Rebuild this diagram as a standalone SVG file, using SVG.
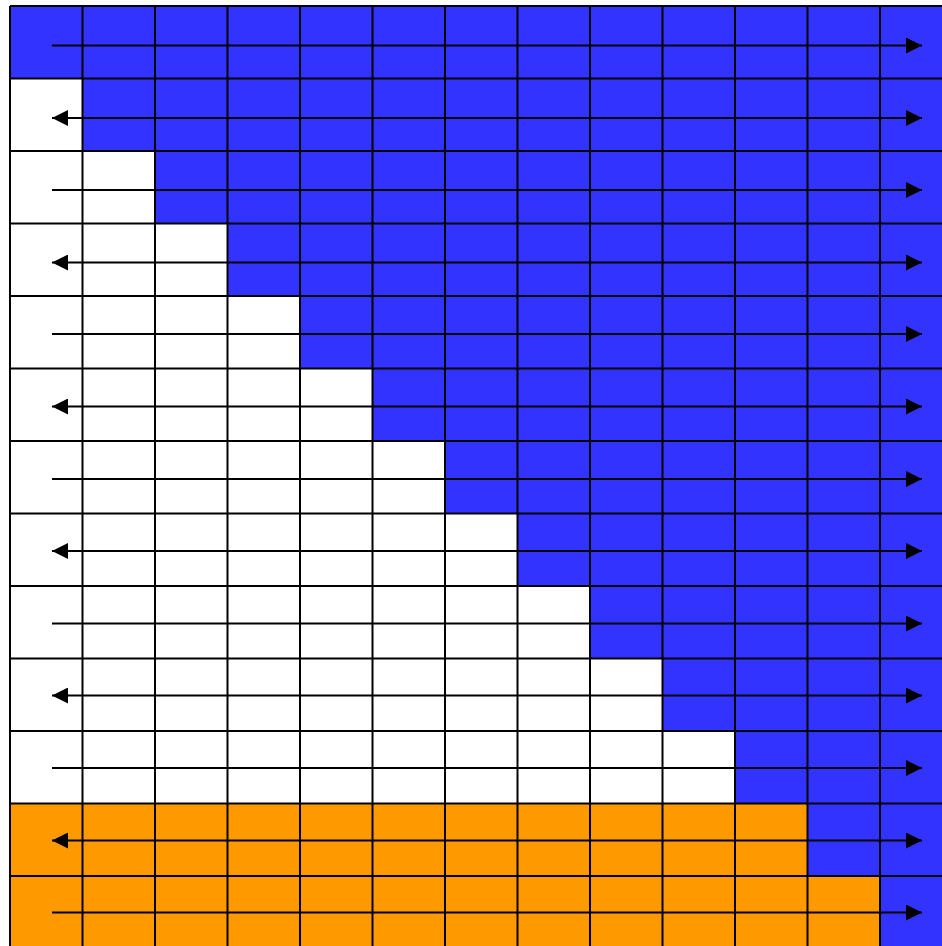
<svg xmlns="http://www.w3.org/2000/svg" width="942" height="946" viewBox="0 0 942 946">
<style>
.b{fill:#3333FF}
.o{fill:#FF9900}
.g line{stroke:#000;stroke-width:2}
.a line{stroke:#000;stroke-width:2.2;fill:none}
.s{marker-end:url(#ah)}
.d{marker-start:url(#ah);marker-end:url(#ah)}
</style>
<defs>
<marker id="ah" markerUnits="userSpaceOnUse" markerWidth="16" markerHeight="16" viewBox="0 0 16 16" refX="16" refY="8" orient="auto-start-reverse">
<path d="M0,0 L16,8 L0,16 z" fill="#000"/>
</marker>
</defs>
<rect x="0" y="0" width="942" height="946" fill="#fff"/>
<g id="cells">
<rect class="b" x="10" y="6" width="932" height="72.5"/>
<rect class="b" x="82.5" y="78.5" width="859.5" height="72.5"/>
<rect class="b" x="155" y="151" width="787" height="72.5"/>
<rect class="b" x="227.5" y="223.5" width="714.5" height="72.5"/>
<rect class="b" x="300" y="296" width="642" height="72.5"/>
<rect class="b" x="372.5" y="368.5" width="569.5" height="72.5"/>
<rect class="b" x="445" y="441" width="497" height="72.5"/>
<rect class="b" x="517.5" y="513.5" width="424.5" height="72.5"/>
<rect class="b" x="590" y="586" width="352" height="72.5"/>
<rect class="b" x="662.5" y="658.5" width="279.5" height="72.5"/>
<rect class="b" x="735" y="731" width="207" height="72.5"/>
<rect class="o" x="10" y="803.5" width="797.5" height="72.5"/>
<rect class="b" x="807.5" y="803.5" width="134.5" height="72.5"/>
<rect class="o" x="10" y="876" width="870" height="70"/>
<rect class="b" x="880" y="876" width="62" height="70"/>
</g>
<g id="grid" class="g">
<line x1="10" y1="6" x2="10" y2="946"/>
<line x1="82.5" y1="6" x2="82.5" y2="946"/>
<line x1="155" y1="6" x2="155" y2="946"/>
<line x1="227.5" y1="6" x2="227.5" y2="946"/>
<line x1="300" y1="6" x2="300" y2="946"/>
<line x1="372.5" y1="6" x2="372.5" y2="946"/>
<line x1="445" y1="6" x2="445" y2="946"/>
<line x1="517.5" y1="6" x2="517.5" y2="946"/>
<line x1="590" y1="6" x2="590" y2="946"/>
<line x1="662.5" y1="6" x2="662.5" y2="946"/>
<line x1="735" y1="6" x2="735" y2="946"/>
<line x1="807.5" y1="6" x2="807.5" y2="946"/>
<line x1="880" y1="6" x2="880" y2="946"/>
<line x1="10" y1="6" x2="942" y2="6"/>
<line x1="10" y1="78.5" x2="942" y2="78.5"/>
<line x1="10" y1="151" x2="942" y2="151"/>
<line x1="10" y1="223.5" x2="942" y2="223.5"/>
<line x1="10" y1="296" x2="942" y2="296"/>
<line x1="10" y1="368.5" x2="942" y2="368.5"/>
<line x1="10" y1="441" x2="942" y2="441"/>
<line x1="10" y1="513.5" x2="942" y2="513.5"/>
<line x1="10" y1="586" x2="942" y2="586"/>
<line x1="10" y1="658.5" x2="942" y2="658.5"/>
<line x1="10" y1="731" x2="942" y2="731"/>
<line x1="10" y1="803.5" x2="942" y2="803.5"/>
<line x1="10" y1="876" x2="942" y2="876"/>
</g>
<g id="connectors" class="a">
<line class="s" x1="52" y1="45.5" x2="922" y2="45.5"/>
<line class="d" x1="52" y1="118" x2="922" y2="118"/>
<line class="s" x1="52" y1="190" x2="922" y2="190"/>
<line class="d" x1="52" y1="262.5" x2="922" y2="262.5"/>
<line class="s" x1="52" y1="334" x2="922" y2="334"/>
<line class="d" x1="52" y1="406.5" x2="922" y2="406.5"/>
<line class="s" x1="52" y1="479" x2="922" y2="479"/>
<line class="d" x1="52" y1="551" x2="922" y2="551"/>
<line class="s" x1="52" y1="623.5" x2="922" y2="623.5"/>
<line class="d" x1="52" y1="695.5" x2="922" y2="695.5"/>
<line class="s" x1="52" y1="768" x2="922" y2="768"/>
<line class="d" x1="52" y1="840.5" x2="922" y2="840.5"/>
<line class="s" x1="52" y1="912.5" x2="922" y2="912.5"/>
</g>
</svg>
